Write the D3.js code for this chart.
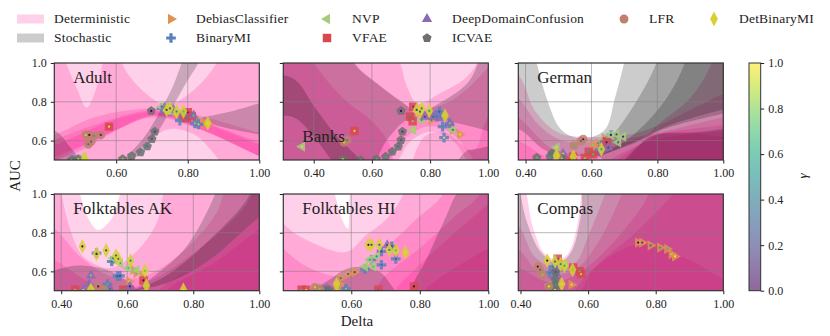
<!DOCTYPE html>
<html>
<head>
<meta charset="utf-8">
<script src="https://cdn.jsdelivr.net/npm/d3@7"></script>
<style>
body { margin: 0; background: #fff; }
text { font-family: "Liberation Serif", serif; fill: #222; }
</style>
</head>
<body>
<script>
// legend entries, in reading order
var methods = ["DebiasClassifier", "BinaryMI", "NVP", "VFAE", "DeepDomainConfusion", "ICVAE", "LFR", "DetBinaryMI"];
var methodColors = ["#e0924f", "#5a80bd", "#a3cc7c", "#d8484f", "#8a69b5", "#6f6f6f", "#c2806c", "#d8d032"];
var panelNames = ["Adult", "Banks", "German", "Folktables AK", "Folktables HI", "Compas"];
var xTicks = [0.4, 0.6, 0.8, 1.0];
var yTicks = [0.6, 0.8, 1.0];
var gammaTicks = [0, 0.2, 0.4, 0.6, 0.8, 1];

// left end of the Delta axis for each panel
var xStarts = [0.427, 0.2955, 0.378, 0.379, 0.4015, 0.3935];

// background regions, [kind, curve] or ["band", upper curve, lower curve], in (Delta, AUC)
var adultDet = [
  ["below", [[0.3,1.2],[1.1,1.2]]],
  ["band", [[0.3,1.15],[0.44,1.15],[0.46,1],[0.49,0.87],[0.517,0.77],[0.55,0.9],[0.575,1.08],[0.6,1.12],[0.615,1],[0.667,0.87],[0.741,0.785],[0.816,0.86],[0.881,1],[0.9,1.1],[1.1,1.15]],
           [[0.3,0.4],[0.55,0.42],[0.62,0.46],[0.65,0.52],[0.69,0.6],[0.75,0.66],[0.82,0.63],[0.87,0.54],[0.9,0.47],[0.95,0.4],[1.1,0.4]]],
  ["band", [[0.3,0.55],[0.43,0.63],[0.54,0.72],[0.7,0.765],[0.83,0.73],[1.1,0.58]],
           [[0.3,0.42],[0.43,0.5],[0.56,0.62],[0.7,0.72],[0.83,0.66],[1,0.52],[1.1,0.44]]],
  ["band", [[0.3,0.5],[0.45,0.62],[0.57,0.7],[0.7,0.755],[0.85,0.69],[1.1,0.52]],
           [[0.3,0.42],[0.46,0.54],[0.6,0.655],[0.7,0.73],[0.85,0.65],[1,0.52],[1.1,0.44]]],
  ["band", [[0.3,0.48],[0.46,0.6],[0.6,0.71],[0.72,0.75],[0.86,0.68],[1.1,0.5]],
           [[0.3,0.42],[0.48,0.53],[0.62,0.67],[0.72,0.73],[0.86,0.64],[1,0.52],[1.1,0.44]]]
];
var adultSto = [
  ["band", [[0.58,0.42],[0.62,0.5],[0.676,0.612],[0.722,0.749],[0.76,0.887],[0.783,1],[0.8,1.08]],
           [[0.6,0.42],[0.648,0.5],[0.704,0.612],[0.75,0.749],[0.792,0.887],[0.83,1],[0.85,1.08]]],
  ["band", [[0.84,0.72],[0.92,0.75],[1.1,0.85]], [[0.84,0.7],[0.92,0.66],[1.1,0.6]]],
  ["band", [[0.3,0.68],[0.43,0.65],[0.47,0.57],[0.5,0.5],[0.52,0.42]], [[0.3,0.42],[0.52,0.42]]]
];
var banksDet = [
  ["below", [[0.2,1.2],[1.1,1.2]]],
  ["band", [[0.2,1.15],[0.65,1.15],[0.697,1],[0.72,0.88],[0.757,0.79],[0.83,0.84],[0.92,0.92],[0.96,1],[0.98,1.15],[1.1,1.15]],
           [[0.2,0.4],[0.62,0.4],[0.69,0.5],[0.731,0.595],[0.8,0.646],[0.869,0.612],[0.926,0.5],[0.96,0.4],[1.1,0.4]]],
  ["band", [[0.2,1.15],[0.5,1.15],[0.536,1],[0.628,0.88],[0.7,0.8],[0.757,0.76],[0.85,0.79],[0.93,0.87],[1,0.98],[1.1,1.15]],
           [[0.2,0.4],[0.6,0.4],[0.66,0.5],[0.72,0.62],[0.8,0.675],[0.88,0.63],[0.95,0.5],[1,0.4],[1.1,0.4]]],
  ["band", [[0.2,1.15],[0.34,1.15],[0.4,1],[0.5,0.82],[0.6,0.7],[0.66,0.58],[0.68,0.4]], [[0.2,0.4],[0.68,0.4]]],
  ["band", [[0.72,0.4],[0.78,0.62],[0.85,0.64],[0.95,0.55],[1,0.72],[1.1,0.8]], [[0.72,0.4],[1.1,0.4]]]
];
var banksSto = [
  ["band", [[0.2,1.15],[0.5,1.15],[0.54,1],[0.63,0.88],[0.72,0.78],[0.75,0.74],[0.84,0.8],[0.93,0.9],[0.965,1],[0.99,1.15],[1.1,1.15]],
           [[0.2,0.4],[0.56,0.4],[0.66,0.62],[0.74,0.72],[0.92,0.68],[1.1,0.6]]],
  ["band", [[0.2,0.95],[0.33,0.92],[0.4,0.78],[0.48,0.62],[0.56,0.5],[0.6,0.4]], [[0.2,0.72],[0.33,0.72],[0.4,0.62],[0.46,0.5],[0.5,0.4]]],
  ["band", [[0.86,0.4],[0.92,0.54],[0.97,0.56],[1.1,0.6]], [[0.86,0.4],[1.1,0.4]]]
];
var germanDet = [
  ["below", [[0.25,1.1],[0.378,0.94],[0.43,0.75],[0.5,0.64],[0.58,0.62],[0.74,0.64],[1,0.84],[1.1,0.9]]],
  ["below", [[0.25,1],[0.378,0.82],[0.44,0.68],[0.51,0.6],[0.59,0.59],[0.74,0.62],[1,0.72],[1.1,0.76]]],
  ["below", [[0.25,0.85],[0.378,0.72],[0.47,0.57],[0.54,0.53],[0.64,0.56],[0.79,0.63],[1,0.68],[1.1,0.7]]],
  ["below", [[0.25,0.7],[0.378,0.6],[0.48,0.5],[0.6,0.47],[0.78,0.6],[1,0.65],[1.1,0.66]]],
  ["below", [[0.6,0.4],[0.72,0.55],[0.82,0.64],[1,0.62],[1.1,0.6]]],
  ["below", [[0.3,0.45],[0.66,0.45],[0.8,0.68],[0.9,0.82],[0.964,1],[0.98,1.15],[1.1,1.15]]]
];
var germanSto = [
  ["band", [[0.3,1.15],[0.41,1.15],[0.434,1],[0.464,0.818],[0.509,0.655],[0.57,0.612],[0.64,0.655],[0.671,0.818],[0.699,1],[0.72,1.15],[1.1,1.15]],
           [[0.3,0.66],[0.378,0.66],[0.46,0.55],[0.55,0.52],[0.62,0.52],[0.68,0.42],[1.1,0.4]]],
  ["band", [[0.58,0.5],[0.66,0.62],[0.742,0.818],[0.797,1],[0.82,1.15],[1.1,1.15]], [[0.58,0.5],[0.72,0.58],[0.82,0.66],[1,0.74],[1.1,0.78]]],
  ["band", [[0.6,0.5],[0.72,0.62],[0.82,0.8],[0.883,1],[0.9,1.15],[1.1,1.15]], [[0.6,0.5],[0.74,0.6],[0.84,0.68],[1,0.76],[1.1,0.8]]],
  ["band", [[0.66,0.42],[0.78,0.62],[0.9,0.64],[1.1,0.68]], [[0.66,0.42],[1.1,0.42]]]
];
var akDet = [
  ["below", [[0.3,1.15],[0.44,1.15],[0.457,1],[0.482,0.875],[0.512,0.814],[0.553,0.875],[0.578,1],[0.6,1.15],[1.1,1.15]]],
  ["below", [[0.3,1.15],[0.385,1.15],[0.401,1],[0.426,0.823],[0.467,0.677],[0.548,0.617],[0.628,0.703],[0.689,0.85],[0.709,1],[0.73,1.15],[1.1,1.15]]],
  ["below", [[0.3,0.9],[0.379,0.823],[0.457,0.677],[0.558,0.57],[0.66,0.58],[0.78,0.72],[0.87,0.9],[0.91,1.05],[1.1,1.15]]],
  ["below", [[0.3,0.72],[0.379,0.66],[0.47,0.56],[0.56,0.5],[0.68,0.56],[0.82,0.72],[0.95,0.92],[1,1.05],[1.1,1.15]]],
  ["below", [[0.3,0.3],[0.64,0.42],[0.72,0.54],[0.85,0.66],[1,0.88],[1.1,1]]],
  ["below", [[0.3,0.3],[0.66,0.42],[0.74,0.53],[0.86,0.64],[1,0.82],[1.1,0.94]]]
];
var akSto = [
  ["band", [[0.55,0.42],[0.7,0.6],[0.78,0.73],[0.866,1],[0.89,1.15],[1.1,1.15]], [[0.55,0.42],[1.1,0.42]]],
  ["band", [[0.62,0.5],[0.72,0.58],[0.86,0.78],[0.972,1],[0.99,1.15],[1.1,1.15]], [[0.62,0.5],[0.72,0.54],[0.85,0.66],[1,0.88],[1.1,1]]],
  ["band", [[0.37,0.6],[0.45,0.63],[0.55,0.6],[0.62,0.52],[0.66,0.45]], [[0.37,0.4],[0.66,0.4]]]
];
var hiDet = [
  ["below", [[0.3,1.15],[0.53,1.15],[0.552,1],[0.575,0.86],[0.59,0.82],[0.596,1],[0.61,1.15],[1.1,1.15]]],
  ["below", [[0.3,1.15],[0.4,0.85],[0.49,0.745],[0.586,0.7],[0.645,0.79],[0.703,0.87],[0.752,1],[0.77,1.15],[1.1,1.15]]],
  ["below", [[0.3,1],[0.4,0.72],[0.5,0.6],[0.6,0.58],[0.7,0.72],[0.79,0.87],[0.868,1],[0.89,1.15],[1.1,1.15]]],
  ["below", [[0.3,0.42],[0.62,0.42],[0.7,0.58],[0.8,0.72],[0.9,0.88],[0.975,1],[1,1.15],[1.1,1.15]]],
  ["below", [[0.3,0.4],[0.68,0.42],[0.75,0.55],[0.87,0.75],[1,0.95],[1.1,1.1]]],
  ["below", [[0.3,0.4],[0.76,0.42],[0.83,0.53],[1,0.72],[1.1,0.8]]]
];
var hiSto = [
  ["band", [[0.4,0.47],[0.5,0.52],[0.6,0.62],[0.68,0.6],[0.72,0.52],[0.76,0.42]], [[0.4,0.4],[0.76,0.4]]],
  ["below", [[0.3,0.4],[0.72,0.42],[0.8,0.6],[0.868,0.85],[0.93,1.05],[1.1,1.15]]]
];
var compasDet = [
  ["below", [[0.3,1.15],[0.4,1.15],[0.418,1],[0.438,0.82],[0.472,0.69],[0.51,0.66],[0.54,0.69],[0.566,0.82],[0.581,1],[0.6,1.15],[1.1,1.15]]],
  ["below", [[0.3,0.85],[0.39,0.84],[0.44,0.68],[0.5,0.62],[0.56,0.64],[0.6,0.78],[0.65,1],[0.68,1.15],[1.1,1.15]]],
  ["below", [[0.3,0.75],[0.39,0.72],[0.45,0.6],[0.5,0.58],[0.57,0.62],[0.63,0.75],[0.7,1],[0.73,1.15],[1.1,1.15]]],
  ["below", [[0.3,0.65],[0.39,0.62],[0.47,0.55],[0.5,0.54],[0.58,0.6],[0.68,0.76],[0.78,1],[0.8,1.15],[1.1,1.15]]],
  ["below", [[0.3,0.4],[0.55,0.45],[0.62,0.62],[0.74,0.8],[0.85,1],[0.9,1.15],[1.1,1.15]]],
  ["band", [[0.56,0.5],[0.62,0.62],[0.75,0.74],[0.9,0.66],[1,0.56],[1.1,0.5]], [[0.56,0.4],[1.1,0.4]]]
];
var compasSto = [
  ["below", [[0.3,1.15],[0.39,1.15],[0.4,1],[0.42,0.85],[0.46,0.7],[0.51,0.64],[0.55,0.7],[0.58,0.9],[0.6,1.15],[1.1,1.15]]]
];

// scatter points per panel, [method, [[delta, auc, gamma], ...]]
var adultPoints = [
  ["DebiasClassifier", [[0.769,0.74,0.3],[0.8,0.74,0.4],[0.83,0.706,0.6],[0.848,0.689,0.8],[0.858,0.686,0.95]]],
  ["BinaryMI", [[0.48,0.5,0.05],[0.727,0.766,0.2],[0.75,0.75,0.35],[0.778,0.703,0.6],[0.82,0.689,0.8],[0.83,0.684,0.9]]],
  ["NVP", [[0.508,0.514,0.9],[0.727,0.775,0.4],[0.741,0.758,0.6],[0.76,0.75,0.75]]],
  ["VFAE", [[0.58,0.672,0.95],[0.788,0.735,0.2],[0.797,0.715,0.5],[0.811,0.727,0.3],[0.8,0.746,0.1]]],
  ["DeepDomainConfusion", [[0.736,0.77,0.2],[0.76,0.758,0.4],[0.788,0.74,0.55],[0.816,0.729,0.75]]],
  ["ICVAE", [[0.698,0.753,0.02],[0.708,0.646,0.2],[0.7,0.608,0.3],[0.687,0.57,0.45],[0.668,0.54,0.55],[0.643,0.52,0.65],[0.618,0.505,0.8],[0.494,0.505,0.9],[0.475,0.5,0.95]]],
  ["LFR", [[0.515,0.629,0.9],[0.525,0.629,0.02],[0.538,0.624,0.6],[0.557,0.629,0.1],[0.522,0.581,0.4],[0.53,0.595,0.3]]],
  ["DetBinaryMI", [[0.741,0.758,0.15],[0.75,0.766,0.3],[0.769,0.75,0.5],[0.788,0.75,0.7],[0.512,0.509,0.9],[0.856,0.689,0.95]]]
];
var banksPoints = [
  ["DebiasClassifier", [[0.776,0.715,0.3],[0.805,0.706,0.45],[0.878,0.655,0.8],[0.903,0.632,0.95]]],
  ["BinaryMI", [[0.832,0.749,0.3],[0.822,0.723,0.4],[0.843,0.672,0.6],[0.866,0.689,0.85],[0.848,0.615,0.95]]],
  ["NVP", [[0.36,0.569,0.95],[0.742,0.655,0.9],[0.771,0.706,0.6],[0.878,0.655,0.4]]],
  ["VFAE", [[0.54,0.65,0.95],[0.742,0.775,0.2],[0.731,0.723,0.5],[0.74,0.7,0.8]]],
  ["DeepDomainConfusion", [[0.782,0.723,0.2],[0.811,0.723,0.4],[0.84,0.715,0.6],[0.868,0.689,0.8]]],
  ["ICVAE", [[0.7,0.753,0.02],[0.705,0.646,0.15],[0.7,0.603,0.3],[0.691,0.569,0.4],[0.67,0.543,0.5],[0.647,0.517,0.6],[0.616,0.505,0.7],[0.561,0.5,0.8],[0.5,0.505,0.9]]],
  ["LFR", [[0.515,0.603,0.5],[0.504,0.591,0.9]]],
  ["DetBinaryMI", [[0.754,0.758,0.2],[0.771,0.766,0.4],[0.765,0.749,0.3],[0.797,0.753,0.6],[0.851,0.729,0.9]]]
];
var germanPoints = [
  ["DebiasClassifier", [[0.605,0.577,0.8],[0.62,0.586,0.6],[0.64,0.612,0.3]]],
  ["BinaryMI", [[0.66,0.629,0.1],[0.64,0.594,0.4],[0.625,0.552,0.7]]],
  ["NVP", [[0.494,0.565,0.95],[0.696,0.62,0.1],[0.681,0.591,0.3],[0.676,0.632,0.2],[0.659,0.629,0.05]]],
  ["VFAE", [[0.544,0.517,0.95],[0.592,0.543,0.6],[0.605,0.529,0.7],[0.58,0.509,0.8],[0.646,0.591,0.05],[0.52,0.5,0.9]]],
  ["DeepDomainConfusion", [[0.514,0.533,0.9],[0.63,0.56,0.4],[0.651,0.564,0.2]]],
  ["ICVAE", [[0.434,0.512,0.7],[0.48,0.534,0.5],[0.474,0.517,0.6],[0.51,0.509,0.85]]],
  ["LFR", [[0.575,0.607,0.05],[0.568,0.598,0.4],[0.547,0.574,0.7],[0.497,0.526,0.9]]],
  ["DetBinaryMI", [[0.494,0.522,0.9],[0.545,0.517,0.85],[0.63,0.555,0.6]]]
];
var akPoints = [
  ["DebiasClassifier", [[0.558,0.655,0.1],[0.606,0.548,0.9],[0.618,0.608,0.4],[0.628,0.591,0.6],[0.648,0.57,0.8]]],
  ["BinaryMI", [[0.578,0.577,0.2],[0.553,0.651,0.4],[0.54,0.534,0.7],[0.507,0.694,0.1],[0.57,0.575,0.3]]],
  ["NVP", [[0.558,0.668,0.3],[0.578,0.643,0.5],[0.603,0.617,0.7],[0.628,0.608,0.85]]],
  ["VFAE", [[0.649,0.553,0.02],[0.442,0.505,0.8],[0.588,0.505,0.6],[0.608,0.505,0.5]]],
  ["DeepDomainConfusion", [[0.49,0.579,0.8],[0.485,0.534,0.6],[0.467,0.505,0.9],[0.608,0.522,0.1],[0.548,0.51,0.4]]],
  ["LFR", [[0.512,0.522,0.05],[0.49,0.505,0.9],[0.53,0.505,0.7]]],
  ["DetBinaryMI", [[0.464,0.729,0.02],[0.507,0.69,0.05],[0.536,0.708,0.2],[0.566,0.682,0.3],[0.573,0.665,0.4],[0.61,0.655,0.5],[0.654,0.603,0.75],[0.658,0.526,0.9],[0.77,0.505,0.95],[0.49,0.505,0.8]]]
];
var hiPoints = [
  ["DebiasClassifier", [[0.569,0.565,0.4],[0.591,0.586,0.3],[0.567,0.531,0.7],[0.61,0.596,0.2],[0.56,0.505,0.9]]],
  ["BinaryMI", [[0.688,0.634,0.4],[0.64,0.613,0.6],[0.73,0.665,0.3],[0.718,0.729,0.1],[0.688,0.703,0.2],[0.659,0.66,0.5],[0.584,0.51,0.8],[0.518,0.505,0.9]]],
  ["NVP", [[0.64,0.625,0.85],[0.664,0.625,0.7],[0.674,0.677,0.5],[0.654,0.66,0.6],[0.499,0.514,0.95]]],
  ["VFAE", [[0.783,0.522,0.02],[0.679,0.505,0.4],[0.455,0.505,0.7],[0.468,0.505,0.9]]],
  ["DeepDomainConfusion", [[0.528,0.51,0.8],[0.705,0.735,0.1]]],
  ["ICVAE", [[0.518,0.505,0.7],[0.5,0.505,0.9],[0.535,0.505,0.5]]],
  ["LFR", [[0.494,0.517,0.9],[0.508,0.51,0.8]]],
  ["DetBinaryMI", [[0.65,0.737,0.02],[0.659,0.737,0.15],[0.682,0.737,0.3],[0.711,0.711,0.5],[0.73,0.708,0.7],[0.758,0.698,0.95],[0.557,0.534,0.9]]]
];
var compasPoints = [
  ["DebiasClassifier", [[0.748,0.749,0.02],[0.76,0.749,0.15],[0.785,0.734,0.35],[0.813,0.723,0.55],[0.834,0.716,0.7],[0.847,0.689,0.85],[0.857,0.677,0.98],[0.551,0.531,0.95]]],
  ["BinaryMI", [[0.487,0.591,0.5],[0.497,0.625,0.3],[0.522,0.634,0.2]]],
  ["NVP", [[0.53,0.634,0.5],[0.487,0.531,0.8],[0.502,0.51,0.9]]],
  ["VFAE", [[0.556,0.62,0.6],[0.579,0.586,0.9],[0.51,0.665,0.3],[0.575,0.6,0.7]]],
  ["DeepDomainConfusion", [[0.502,0.608,0.3],[0.507,0.582,0.4]]],
  ["ICVAE", [[0.504,0.596,0.3],[0.502,0.557,0.5],[0.504,0.531,0.6],[0.487,0.522,0.8],[0.502,0.505,0.9]]],
  ["LFR", [[0.451,0.625,0.02],[0.458,0.608,0.4],[0.465,0.582,0.8],[0.484,0.522,0.95]]],
  ["DetBinaryMI", [[0.479,0.656,0.02],[0.502,0.651,0.3],[0.519,0.637,0.5],[0.53,0.629,0.6],[0.554,0.608,0.8],[0.522,0.534,0.95]]]
];

var panelDet = [adultDet, banksDet, germanDet, akDet, hiDet, compasDet];
var panelSto = [adultSto, banksSto, germanSto, akSto, hiSto, compasSto];
var panelPoints = [adultPoints, banksPoints, germanPoints, akPoints, hiPoints, compasPoints];

var width = 830, height = 336;
var panelW = 205;
var colLeft = [54.3, 283.3, 518.3];
var rowTop = [63, 194];
var rowH = [97, 96.7];
var detColor = "#ff1493", stoColor = "#000";

var svg = d3.select("body").append("svg").attr("width", width).attr("height", height);
var defs = svg.append("defs");

// marker shapes; pentagon and the thin diamond are not in d3's set
var pentagon = { draw: function(ctx, size) {
  var r = Math.sqrt(size / 2.378);
  for (var i = 0; i < 5; i++) {
    var a = -Math.PI / 2 + i * 2 * Math.PI / 5;
    if (i == 0) ctx.moveTo(r * Math.cos(a), r * Math.sin(a));
    else ctx.lineTo(r * Math.cos(a), r * Math.sin(a));
  }
  ctx.closePath();
}};
var thinDiamond = { draw: function(ctx, size) {
  var w = Math.sqrt(size) * 0.42, h = Math.sqrt(size) * 0.8;
  ctx.moveTo(0, -h); ctx.lineTo(w, 0); ctx.lineTo(0, h); ctx.lineTo(-w, 0); ctx.closePath();
}};
var markerTypes = [d3.symbolTriangle, d3.symbolCross, d3.symbolTriangle, d3.symbolSquare, d3.symbolTriangle, pentagon, d3.symbolCircle, thinDiamond];
var markerRotate = [90, 0, -90, 0, 0, 0, 0, 0];
var markerArea = [46, 52, 46, 72, 46, 56, 62, 85];

function drawMarker(sel, name, scale) {
  var m = methods.indexOf(name);
  sel.attr("d", d3.symbol().type(markerTypes[m]).size(markerArea[m] * scale)())
     .attr("fill", methodColors[m]);
}

function regionPath(shape, x, y) {
  var line = d3.line().x(function(d) { return x(d[0]); }).y(function(d) { return y(d[1]); }).curve(d3.curveCatmullRom);
  var kind = shape[0], a = shape[1];
  if (kind == "band") {
    var b = shape[2].slice().reverse();
    return line(a) + "L" + line(b).slice(1) + "Z";
  }
  var farY = kind == "below" ? y(0) : y(2);
  var first = a[0], last = a[a.length - 1];
  return line(a) + "L" + x(2) + "," + y(last[1]) + "L" + x(2) + "," + farY + "L" + x(-1) + "," + farY + "L" + x(-1) + "," + y(first[1]) + "Z";
}

var gammaColor = d3.scaleSequential(d3.interpolateViridis).domain([0, 1]);

panelNames.forEach(function(name, i) {
  var col = i % 3, row = Math.floor(i / 3);
  var x = d3.scaleLinear().domain([xStarts[i], 1]).range([0, panelW]);
  var y = d3.scaleLinear().domain([0.5, 1]).range([rowH[row], 0]);
  var g = svg.append("g").attr("transform", "translate(" + colLeft[col] + "," + rowTop[row] + ")");

  defs.append("clipPath").attr("id", "clip" + i).append("rect").attr("width", panelW).attr("height", rowH[row]);
  var plot = g.append("g").attr("clip-path", "url(#clip" + i + ")");

  plot.selectAll("path.det").data(panelDet[i]).enter().append("path")
    .attr("class", "det").attr("d", function(d) { return regionPath(d, x, y); })
    .attr("fill", detColor).attr("fill-opacity", 0.2);
  plot.selectAll("path.sto").data(panelSto[i]).enter().append("path")
    .attr("class", "sto").attr("d", function(d) { return regionPath(d, x, y); })
    .attr("fill", stoColor).attr("fill-opacity", 0.2);

  // grid
  xTicks.filter(function(t) { return t >= xStarts[i] && t < 1; }).forEach(function(t) {
    plot.append("line").attr("x1", x(t)).attr("x2", x(t)).attr("y1", 0).attr("y2", rowH[row])
      .attr("stroke", "#808080").attr("stroke-opacity", 0.55);
  });
  yTicks.filter(function(t) { return t < 1; }).forEach(function(t) {
    plot.append("line").attr("y1", y(t)).attr("y2", y(t)).attr("x1", 0).attr("x2", panelW)
      .attr("stroke", "#808080").attr("stroke-opacity", 0.55);
  });

  // method markers with the gamma dot on top
  panelPoints[i].forEach(function(group) {
    var m = methods.indexOf(group[0]);
    var marks = plot.append("g");
    marks.selectAll("path").data(group[1]).enter().append("path")
      .call(drawMarker, group[0], 1)
      .attr("transform", function(d) { return "translate(" + x(d[0]) + "," + y(d[1]) + ") rotate(" + markerRotate[m] + ")"; })
      .attr("opacity", 0.85);
    marks.selectAll("circle").data(group[1]).enter().append("circle")
      .attr("cx", function(d) { return x(d[0]); })
      .attr("cy", function(d) { return y(d[1]); })
      .attr("r", 1.1)
      .attr("fill", function(d) { return gammaColor(d[2]); });
  });

  // axes
  var xAxis = d3.axisBottom(x).tickValues(xTicks.filter(function(t) { return t >= xStarts[i]; }))
    .tickFormat(d3.format(".2f")).tickSize(3.5).tickPadding(5);
  var yAxis = d3.axisLeft(y).tickValues(yTicks).tickFormat(col == 0 ? d3.format(".1f") : "").tickSize(3.5).tickPadding(4);
  var gx = g.append("g").attr("transform", "translate(0," + rowH[row] + ")").call(xAxis);
  var gy = g.append("g").call(yAxis);
  [gx, gy].forEach(function(ax) {
    ax.select(".domain").remove();
    ax.selectAll("line").attr("stroke", "#222");
    ax.selectAll("text").attr("font-size", 12).style("font-family", '"Liberation Serif", serif').attr("fill", "#222");
  });
  g.append("rect").attr("width", panelW).attr("height", rowH[row]).attr("fill", "none").attr("stroke", "#333").attr("stroke-width", 1.2);

  g.append("text").attr("x", 19).attr("y", name == "Banks" ? 79 : 20).attr("font-size", 17).text(name);
});

// axis titles
svg.append("text").attr("transform", "translate(20,176) rotate(-90)").attr("text-anchor", "middle").attr("font-size", 15).text("AUC");
svg.append("text").attr("x", 357).attr("y", 326).attr("text-anchor", "middle").attr("font-size", 15).text("Delta");

// colorbar
var cbX = 749, cbW = 11.7, cbTop = 63, cbH = 227.7;
var cbScale = d3.scaleLinear().domain([0, 1]).range([cbH, 0]);
var grad = defs.append("linearGradient").attr("id", "cb").attr("x1", 0).attr("x2", 0).attr("y1", 1).attr("y2", 0);
d3.range(0, 1.001, 0.1).forEach(function(t) {
  grad.append("stop").attr("offset", t).attr("stop-color", gammaColor(t)).attr("stop-opacity", 0.6);
});
var cb = svg.append("g").attr("transform", "translate(" + cbX + "," + cbTop + ")");
cb.append("rect").attr("width", cbW).attr("height", cbH).attr("fill", "url(#cb)").attr("stroke", "#333");
var cbAxis = cb.append("g").attr("transform", "translate(" + cbW + ",0)")
  .call(d3.axisRight(cbScale).tickValues(gammaTicks).tickFormat(d3.format(".1f")).tickSize(3.5).tickPadding(4));
cbAxis.select(".domain").remove();
cbAxis.selectAll("line").attr("stroke", "#222");
cbAxis.selectAll("text").attr("font-size", 12).style("font-family", '"Liberation Serif", serif').attr("fill", "#222");
svg.append("text").attr("transform", "translate(807,176) rotate(-90)").attr("text-anchor", "middle").attr("font-size", 13).attr("font-style", "italic").text("γ");

// legend
var legendRows = [19, 38];
var legendPatchNames = ["Deterministic", "Stochastic"];
var legendPatchColors = [detColor, stoColor];
legendPatchNames.forEach(function(n, i) {
  svg.append("rect").attr("x", 17).attr("y", legendRows[i] - 4.5).attr("width", 27).attr("height", 9)
    .attr("fill", legendPatchColors[i]).attr("fill-opacity", 0.2);
  svg.append("text").attr("x", 54).attr("y", legendRows[i] + 4).attr("font-size", 13.5).attr("letter-spacing", 0.2).text(n);
});
var legendMarkerX = [171, 171, 327, 327, 427, 427, 624, 714];
var legendRow = [0, 1, 0, 1, 0, 1, 0, 0];
methods.forEach(function(n, i) {
  svg.append("path").call(drawMarker, n, 1)
    .attr("transform", "translate(" + legendMarkerX[i] + "," + legendRows[legendRow[i]] + ") rotate(" + markerRotate[i] + ")");
  svg.append("text").attr("x", legendMarkerX[i] + 25).attr("y", legendRows[legendRow[i]] + 4).attr("font-size", 13.5).attr("letter-spacing", 0.2).text(n);
});
</script>
</body>
</html>
